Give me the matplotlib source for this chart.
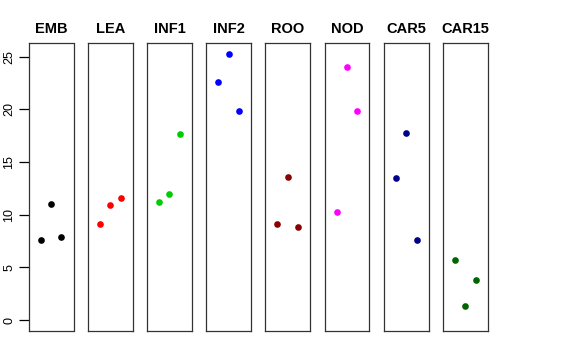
import matplotlib
matplotlib.use("Agg")
import matplotlib.pyplot as plt

plt.rcParams['font.family'] = ['Liberation Sans', 'DejaVu Sans']

# tissues, one panel each, three replicate values per panel
tissues = ["EMB", "LEA", "INF1", "INF2", "ROO", "NOD", "CAR5", "CAR15"]
colors = ["black", "red", "#00CD00", "blue", "#8B0000", "magenta", "#00008B", "#006400"]
emb = [7.64, 11.02, 7.90]
lea = [9.16, 10.90, 11.62]
inf1 = [11.21, 12.00, 17.69]
inf2 = [22.60, 25.30, 19.90]
roo = [9.13, 13.58, 8.82]
nod = [10.30, 24.08, 19.90]
car5 = [13.52, 17.78, 7.58]
car15 = [5.72, 1.36, 3.79]
values = [emb, lea, inf1, inf2, roo, nod, car5, car15]
reps = [1, 2, 3]
yticks = [0, 5, 10, 15, 20, 25]

ymax = max(max(v) for v in values)
ylim = (0 - 0.04 * ymax, ymax * 1.04)
xlim = (0 - 0.16, 4 + 0.16)

W, H = 576, 360
fig = plt.figure(figsize=(W / 100, H / 100), dpi=100)

left0 = 28.7
pitch = 59.19
pw = 44.8
top_px, bot_px = 43.0, 330.7

for i, (name, col, vals) in enumerate(zip(tissues, colors, values)):
    x0 = left0 + i * pitch
    ax = fig.add_axes([x0 / W, 1 - bot_px / H, pw / W, (bot_px - top_px) / H])
    ax.plot(reps, vals, "o", color=col, markersize=4.8, markeredgewidth=0)
    ax.set_xlim(*xlim)
    ax.set_ylim(*ylim)
    ax.set_xticks([])
    for s in ax.spines.values():
        s.set_linewidth(0.9)
        s.set_color("#333333")
    ax.set_title(name, fontsize=10.5, fontweight="bold", pad=7)
    if i == 0:
        ax.set_yticks(yticks)
        ax.set_yticklabels([str(t) for t in yticks], rotation=90, va="center", fontsize=9)
        ax.tick_params(axis="y", length=7.5, width=0.9, pad=2)
    else:
        ax.set_yticks([])

fig.savefig("out.png", dpi=100)
